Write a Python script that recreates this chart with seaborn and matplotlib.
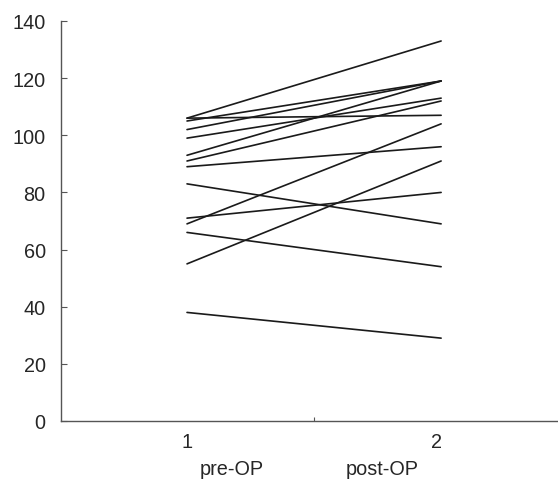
import pandas as pd
import matplotlib
matplotlib.use('Agg')
import matplotlib.pyplot as plt
import matplotlib.transforms as mtransforms
import seaborn as sns

# values, one subject per position
pre_op = [106, 106, 105, 102, 99, 93, 91, 89, 83, 71, 69, 66, 55, 38]
post_op = [133, 107, 119, 119, 113, 119, 112, 96, 69, 80, 104, 54, 91, 29]
time_points = [1, 2]
time_labels = ['pre-OP', 'post-OP']
y_ticks = [0, 20, 40, 60, 80, 100, 120, 140]

rows = []
for i in range(len(pre_op)):
    rows.append({'subject': i, 'time': time_points[0], 'value': pre_op[i]})
    rows.append({'subject': i, 'time': time_points[1], 'value': post_op[i]})
df = pd.DataFrame(rows)

sns.set_style('white')
plt.rcParams['font.family'] = ['Liberation Sans', 'DejaVu Sans']

fig = plt.figure(figsize=(5.58, 4.81), dpi=100)
ax = fig.add_axes([61 / 558, 59 / 481, (558 - 61) / 558, 400 / 481])

sns.lineplot(data=df, x='time', y='value', units='subject', estimator=None,
             color='#1a1a1a', linewidth=1.2, legend=False, ax=ax)

ax.set_xlim(0.504, 2.46)
ax.set_ylim(0, 140)
ax.set_yticks(y_ticks)
ax.set_xticks([1.5])
ax.set_xticklabels([''])
ax.set_xlabel('')
ax.set_ylabel('')

fs = 14.3
ax.tick_params(axis='y', direction='in', length=4.5, width=0.8, color='#555555',
               labelsize=fs, pad=11, left=True)
ax.tick_params(axis='x', direction='in', length=3, width=0.8, color='#555555',
               bottom=True)

for side in ['top', 'right']:
    ax.spines[side].set_visible(False)
for side in ['left', 'bottom']:
    ax.spines[side].set_color('#555555')
    ax.spines[side].set_linewidth(1.0)

trans = mtransforms.blended_transform_factory(ax.transData, fig.transFigure)
ax.text(1.0, 1 - 443 / 481, '1', transform=trans, ha='center', va='center', fontsize=fs)
ax.text(1.98, 1 - 443 / 481, '2', transform=trans, ha='center', va='center', fontsize=fs)
ax.text(1.177, 1 - 470 / 481, time_labels[0], transform=trans, ha='center', va='center', fontsize=fs)
ax.text(1.77, 1 - 470 / 481, time_labels[1], transform=trans, ha='center', va='center', fontsize=fs)

fig.savefig('out.png', dpi=100)
